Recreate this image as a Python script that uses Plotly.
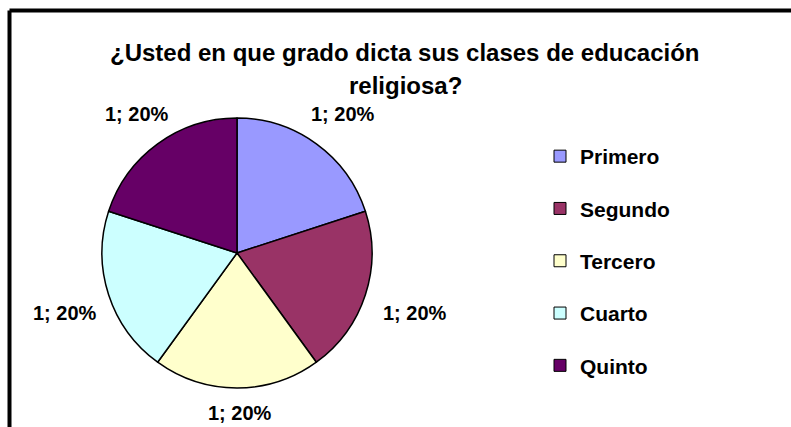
import math
import plotly.graph_objects as go

CATEGORIES = ["Primero", "Segundo", "Tercero", "Cuarto", "Quinto"]
VALUES = [1, 1, 1, 1, 1]
COLORS = ["#9999FF", "#993366", "#FFFFCC", "#CCFFFF", "#660066"]
TITLE_LINES = ["¿Usted en que grado dicta sus clases de educación", "religiosa?"]

W, H = 791, 427
FONT = "Liberation Sans, Arial, sans-serif"


def px(x):
    return x / W


def py(y):
    return 1 - y / H


fig = go.Figure()

# pie centre and radius in window pixels
cx, cy, r = 237, 253, 135
fig.add_trace(go.Pie(
    labels=CATEGORIES,
    values=VALUES,
    sort=False,
    direction="clockwise",
    rotation=0,
    marker=dict(colors=COLORS, line=dict(color="black", width=1.5)),
    textinfo="none",
    showlegend=False,
    hoverinfo="label+value+percent",
    domain=dict(x=[px(cx - r), px(cx + r)], y=[py(cy + r), py(cy - r)]),
))

for i, (cat, col) in enumerate(zip(CATEGORIES, COLORS)):
    fig.add_trace(go.Scatter(
        x=[None], y=[None], mode="markers", name=cat, legendgroup=f"g{i}",
        marker=dict(symbol="square", size=12, color=col, line=dict(color="black", width=1)),
        showlegend=True,
    ))

annotations = []
title_y = [52, 85]
for line, yy in zip(TITLE_LINES, title_y):
    annotations.append(dict(
        text=f"<b>{line}</b>", x=px(405), y=py(yy), xref="paper", yref="paper",
        xanchor="center", yanchor="middle", showarrow=False,
        font=dict(family=FONT, size=24, color="black"),
    ))

# data labels "value; percent" placed outside each slice at its mid angle
total = sum(VALUES)
cum = 0
hw, hh, gap = 35, 9, 13
for v in VALUES:
    mid = (cum + v / 2) / total * 2 * math.pi
    cum += v
    s, c = math.sin(mid), math.cos(mid)
    d = r + gap + hw * abs(s) + hh * abs(c)
    lx, ly = cx + 3 + d * s, cy + 3 - d * c
    annotations.append(dict(
        text=f"<b>{v}; {round(100 * v / total)}%</b>", x=px(lx), y=py(ly),
        xref="paper", yref="paper", xanchor="center", yanchor="middle", showarrow=False,
        font=dict(family=FONT, size=20, color="black"),
    ))

shapes = [
    dict(type="line", xref="paper", yref="paper", x0=px(9.5), x1=1.02, y0=py(10.5), y1=py(10.5),
         line=dict(color="black", width=4)),
    dict(type="line", xref="paper", yref="paper", x0=px(9.5), x1=px(9.5), y0=-0.02, y1=py(10.5),
         line=dict(color="black", width=4)),
]

fig.update_layout(
    width=W, height=H,
    margin=dict(l=0, r=0, t=0, b=0),
    paper_bgcolor="white", plot_bgcolor="white",
    xaxis=dict(visible=False), yaxis=dict(visible=False),
    annotations=annotations,
    shapes=shapes,
    legend=dict(
        x=px(540), y=py(136), xanchor="left", yanchor="top",
        font=dict(family=FONT, size=21, color="black", weight="bold"),
        tracegroupgap=22, bgcolor="rgba(0,0,0,0)",
    ),
)

fig.write_html(
    "out.html",
    config={"displayModeBar": False},
    post_script="document.body.style.margin='0';document.body.style.overflow='hidden';",
)
